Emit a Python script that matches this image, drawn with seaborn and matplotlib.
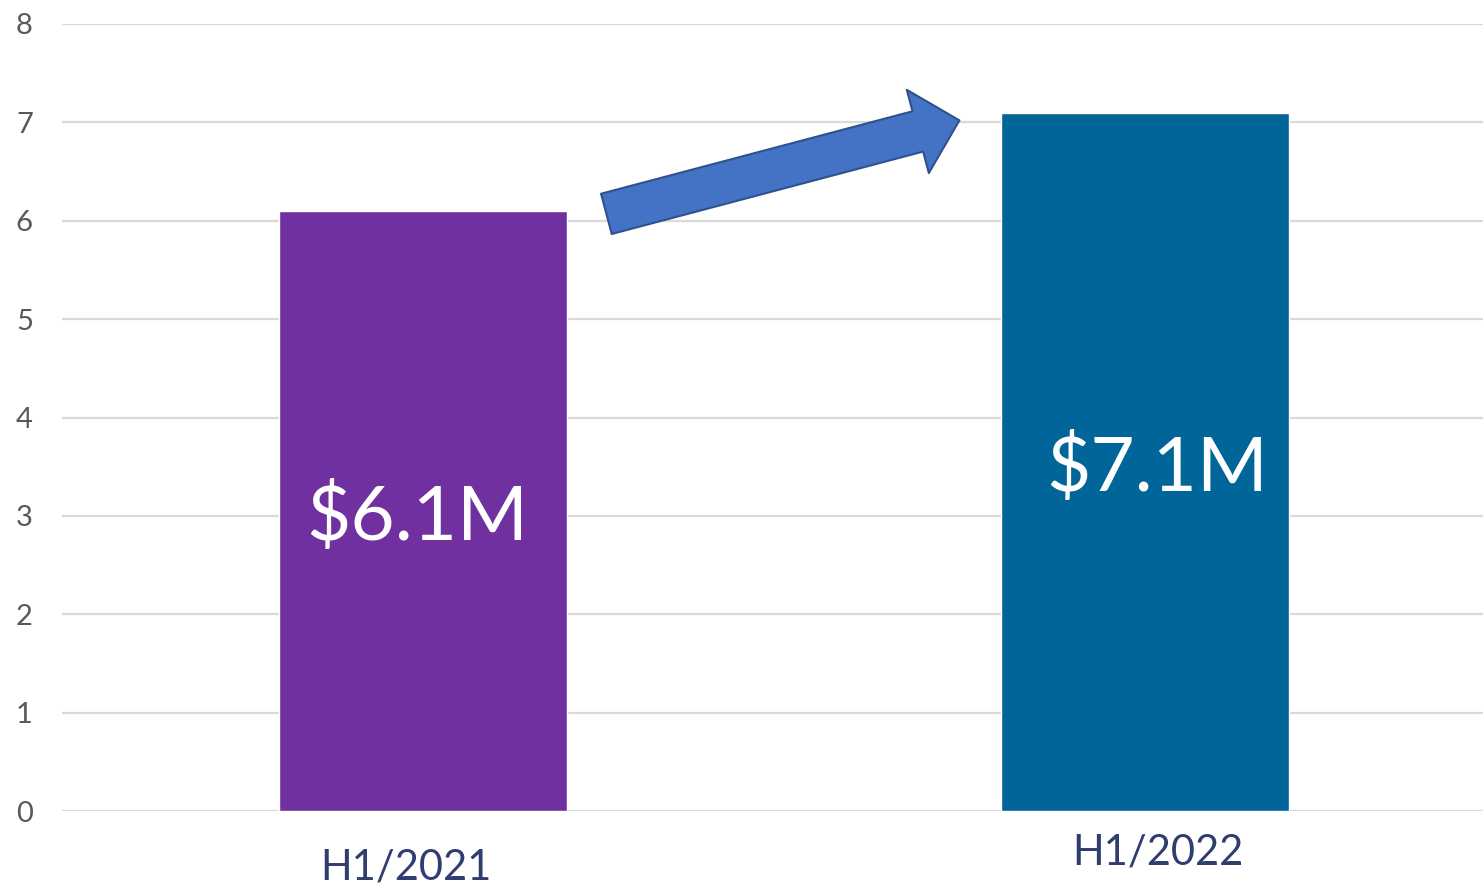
import matplotlib as mpl
mpl.use('Agg')
import matplotlib.pyplot as plt
import seaborn as sns
import pandas as pd

# data
periods = ['H1/2021', 'H1/2022']
revenue = [6.1, 7.1]
value_labels = ['$6.1M', '$7.1M']
bar_colors = ['#7030A0', '#006699']

df = pd.DataFrame({'period': periods, 'revenue': revenue})

sns.set_style('white')
plt.rcParams['font.family'] = ['Lato', 'DejaVu Sans']

fig = plt.figure(figsize=(14.83, 8.85), dpi=100)
ax = fig.add_axes([62 / 1483, 74 / 885, 1444 / 1483, 787 / 885])

sns.barplot(data=df, x='period', y='revenue', hue='period', palette=bar_colors,
            width=0.4, legend=False, ax=ax, saturation=1)

ax.set_ylim(0, 8)
ax.set_xlim(-0.5, 1.5)
ax.set_yticks(range(0, 9))
ax.yaxis.grid(True, color='#D9D9D9', linewidth=1.6)
ax.set_axisbelow(True)
for s in ax.spines.values():
    s.set_visible(False)
ax.set_xlabel('')
ax.set_ylabel('')
ax.tick_params(axis='y', labelsize=21, labelcolor='#595959', length=0, pad=21)
ax.set_xticks([])

# value labels inside the bars
label_dx = [-0.008, 0.017]
for i, (v, txt) in enumerate(zip(revenue, value_labels)):
    ax.annotate(txt, xy=(i + label_dx[i], v / 2), xytext=(0, -5),
                textcoords='offset points', ha='center', va='center',
                color='white', fontsize=55)

# category labels under the bars (placed a bit unevenly, as in the source)
cat_offsets = [(-12, -41), (9, -30)]
for i, name in enumerate(periods):
    ax.annotate(name, xy=(i, 0), xytext=cat_offsets[i], textcoords='offset points',
                ha='center', va='center', fontsize=30, color='#2F3E6E',
                annotation_clip=False)

# growth arrow between the two bars
ax.annotate('', xy=(0.743, 7.02), xytext=(0.254, 6.07),
            arrowprops=dict(arrowstyle='simple,head_length=31,head_width=62,tail_width=30',
                            mutation_scale=1, fc='#4472C4', ec='#2F528F', lw=1.5,
                            shrinkA=0, shrinkB=0))

fig.savefig('out.png', dpi=100)
